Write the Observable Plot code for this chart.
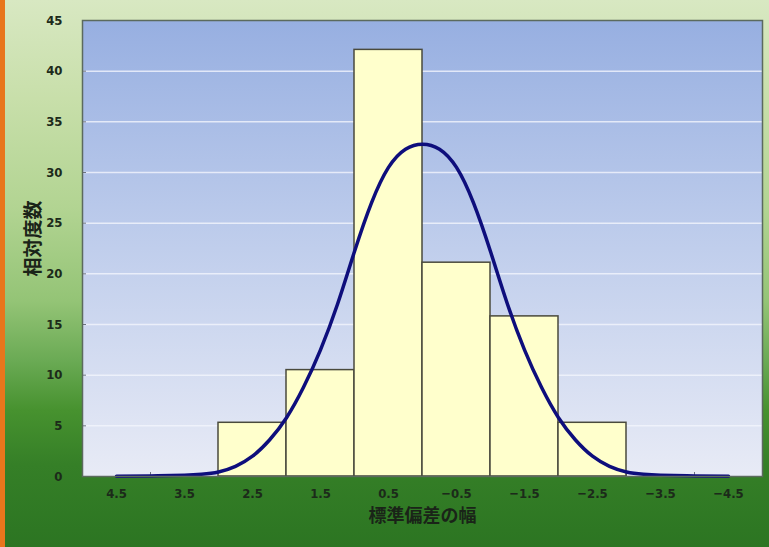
<!DOCTYPE html>
<html>
<head>
<meta charset="utf-8">
<script src="https://cdn.jsdelivr.net/npm/d3@7"></script>
<script src="https://cdn.jsdelivr.net/npm/@observablehq/plot@0.6"></script>
<style>
  html, body { margin: 0; padding: 0; }
  #chart {
    width: 769px; height: 547px; position: relative; overflow: hidden;
    background: linear-gradient(to bottom, #d8e8c2 0%, #c8dfaa 18%, #b2d492 38%, #94c476 55%, #6aaa54 66%, #47922f 75%, #357f27 85%, #2c7522 100%);
    box-shadow: inset 5px 0 0 #e8761c;
  }
  #chart svg { display: block; }
</style>
</head>
<body>
<div id="chart"></div>
<script>
// Histogram bins (centre of each standard-deviation band) and their relative frequency (%)
const binCenters = [2.5, 1.5, 0.5, -0.5, -1.5, -2.5];
const binPercent = [5.3, 10.5, 42.1, 21.1, 15.8, 5.3];

// Fitted distribution curve: position (in SD units) and relative frequency (%)
const curveZ   = [4.5, 4.0, 3.5, 3.25, 3.0, 2.75, 2.5, 2.25, 2.0, 1.75, 1.5, 1.25, 1.0, 0.75, 0.5, 0.25, 0.0,
                  -0.25, -0.5, -0.75, -1.0, -1.25, -1.5, -1.75, -2.0, -2.25, -2.5, -2.75, -3.0, -3.25, -3.5, -4.0, -4.5];
const curvePct = [0.03, 0.06, 0.12, 0.22, 0.45, 1.0, 2.0, 3.6, 5.8, 8.8, 12.5, 17.0, 22.2, 27.0, 30.5, 32.3, 32.8,
                  32.3, 30.5, 27.0, 22.2, 17.0, 12.5, 8.8, 5.8, 3.6, 2.0, 1.0, 0.45, 0.22, 0.12, 0.06, 0.03];

// Axis tick values
const xTickValues = [4.5, 3.5, 2.5, 1.5, 0.5, -0.5, -1.5, -2.5, -3.5, -4.5];
const xBoundaries = [4, 3, 2, 1, 0, -1, -2, -3, -4];
const yTickValues = [0, 5, 10, 15, 20, 25, 30, 35, 40, 45];
const gridValues  = [5, 10, 15, 20, 25, 30, 35, 40];

const yTitle = "相対度数";
const xTitle = "標準偏差の幅";

const bins = binCenters.map((c, i) => ({x1: c + 0.5, x2: c - 0.5, pct: binPercent[i]}));
const curve = curveZ.map((z, i) => ({z, pct: curvePct[i]}));

const numFont = `"Liberation Sans Narrow", "DejaVu Sans Condensed", "Noto Sans CJK JP", sans-serif`;
const jpFont = `"Noto Sans CJK JP", sans-serif`;

// Gradient used to fill the plotting area
const gradientDefs = () => {
  const defs = d3.create("svg:defs");
  const g = defs.append("linearGradient")
    .attr("id", "plotFill").attr("x1", 0).attr("y1", 0).attr("x2", 0).attr("y2", 1);
  g.append("stop").attr("offset", "0%").attr("stop-color", "#97afe1");
  g.append("stop").attr("offset", "45%").attr("stop-color", "#bccbeb");
  g.append("stop").attr("offset", "100%").attr("stop-color", "#e8ebf6");
  return defs.node();
};

const chart = Plot.plot({
  width: 769,
  height: 547,
  marginLeft: 82,
  marginRight: 7,
  marginTop: 20,
  marginBottom: 71,
  style: {background: "transparent", fontFamily: numFont, overflow: "visible"},
  x: {domain: [5, -5], axis: null, label: null},
  y: {domain: [0, 45], axis: null, label: null},
  marks: [
    gradientDefs,
    Plot.frame({fill: "url(#plotFill)"}),
    Plot.ruleY(gridValues, {stroke: "#f2f5fc", strokeOpacity: 0.8, strokeWidth: 1.5}),
    // small inward tick marks
    Plot.axisX(xBoundaries, {tickSize: 4, dy: -4, tickFormat: () => "", stroke: "#6b7280", label: null}),
    Plot.axisY(yTickValues, {tickSize: 4, dx: 4, tickFormat: () => "", stroke: "#6b7280", label: null}),
    Plot.rectY(bins, {x1: "x1", x2: "x2", y: "pct", fill: "#ffffcc", stroke: "#4a4a3c", strokeWidth: 1.5}),
    Plot.line(curve, {x: "z", y: "pct", curve: "natural", stroke: "#0e0e7c", strokeWidth: 3.5}),
    Plot.frame({stroke: "#5b6a5e", strokeWidth: 1.5}),
    // tick labels
    Plot.axisX(xTickValues, {
      tickSize: 0, tickPadding: 12, fontSize: 13, fontWeight: "bold",
      fill: "#1c2a1a", tickFormat: d => d3.format(".1f")(d).replace("-", "\u2212"), label: null
    }),
    Plot.axisY(yTickValues, {
      tickSize: 0, tickPadding: 20, fontSize: 13, fontWeight: "bold",
      fill: "#1c2a1a", tickFormat: d => String(d), label: null
    }),
    // axis titles
    Plot.text([xTitle], {frameAnchor: "bottom", lineAnchor: "middle", textAnchor: "middle", dy: 40, fontSize: 18, fontFamily: jpFont, fontWeight: 600, fill: "#1a2418"}),
    Plot.text([yTitle], {frameAnchor: "left", lineAnchor: "middle", textAnchor: "middle", dx: -49, dy: -10, rotate: -90, fontSize: 19, fontFamily: jpFont, fontWeight: 600, fill: "#1a2418"})
  ]
});

document.getElementById("chart").appendChild(chart);
</script>
</body>
</html>
